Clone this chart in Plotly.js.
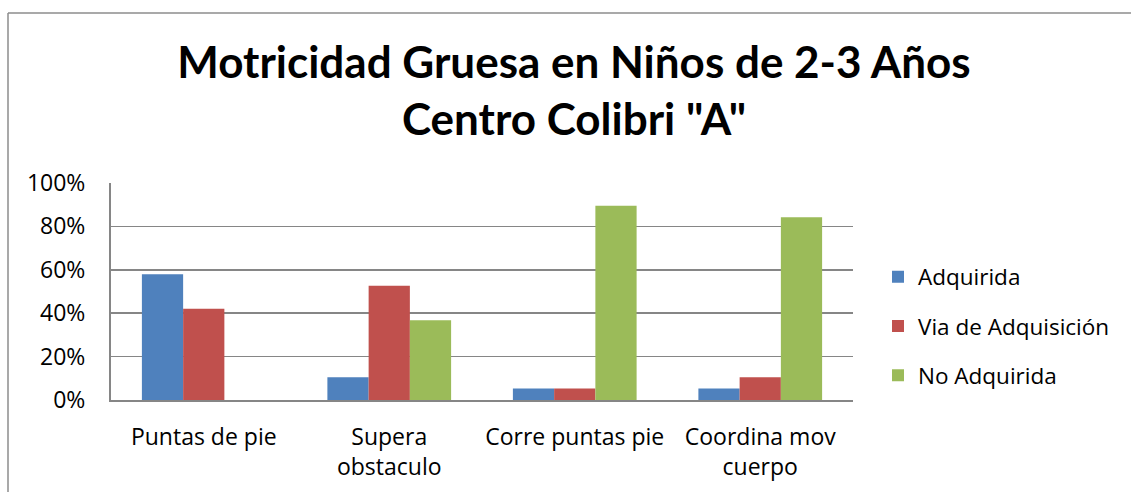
<!DOCTYPE html>
<html>
<head>
<meta charset="utf-8">
<script src="https://cdn.plot.ly/plotly-3.0.1.min.js"></script>
<style>html,body{margin:0;padding:0;background:#fff;}#chart{width:1131px;height:492px;}</style>
</head>
<body>
<div id="chart"></div>
<script>
const categories = ["Puntas de pie", "Supera<br>obstaculo", "Corre puntas pie", "Coordina mov<br>cuerpo"];
const adquirida = [0.579, 0.105, 0.053, 0.053];
const viaAdquisicion = [0.421, 0.526, 0.053, 0.105];
const noAdquirida = [0.0, 0.368, 0.895, 0.842];
const seriesNames = ["Adquirida", "Via de Adquisición", "No Adquirida"];
const tickValues = [0, 0.2, 0.4, 0.6, 0.8, 1.0];
const tickLabels = ["0%", "20%", "40%", "60%", "80%", "100%"];

const colors = ["#4F81BD", "#C0504D", "#9BBB59"];
const allSeries = [adquirida, viaAdquisicion, noAdquirida];
const titleFont = "Lato, 'Open Sans', sans-serif";
const font = "'Open Sans', Lato, sans-serif";

const traces = allSeries.map((vals, i) => ({
  type: "bar",
  name: seriesNames[i],
  x: categories,
  y: vals,
  marker: {color: colors[i]},
  legendgroup: "g" + i,
  hoverinfo: "x+y+name"
}));

const W = 1131, H = 492, L = 111, R = 278, T = 183, B = 92;
const pw = W - L - R, ph = H - T - B;
const px = v => (v - L) / pw;
const py = v => (H - B - v) / ph;

const layout = {
  width: W, height: H,
  margin: {l: L, r: R, t: T, b: B, pad: 0},
  paper_bgcolor: "#ffffff",
  plot_bgcolor: "#ffffff",
  font: {family: font, color: "#000000", size: 23},
  title: {
    text: "<b>Motricidad Gruesa en Niños de 2-3 Años<br>Centro Colibri \"A\"</b>",
    font: {family: titleFont, size: 44, color: "#000000"},
    x: 574 / W, xref: "container", xanchor: "center",
    y: 1 - 78 / H, yref: "container", yanchor: "top"
  },
  barmode: "group",
  bargap: 0.333,
  bargroupgap: 0,
  showlegend: true,
  legend: {
    x: px(878), xanchor: "left",
    y: py(326), yanchor: "middle",
    font: {family: font, size: 22.5, color: "#000000"},
    traceorder: "grouped",
    tracegroupgap: 17,
    bgcolor: "rgba(0,0,0,0)"
  },
  xaxis: {
    type: "category",
    showgrid: false,
    showline: true, linecolor: "#868686", linewidth: 2,
    ticks: "", ticklabelstandoff: 15,
    tickfont: {family: font, size: 23, color: "#000000"},
    fixedrange: true
  },
  yaxis: {
    range: [0, 1],
    tickvals: tickValues, ticktext: tickLabels,
    showgrid: true, gridcolor: "#868686", gridwidth: 1.5,
    showline: true, linecolor: "#868686", linewidth: 2,
    zeroline: false,
    ticks: "", ticklabelstandoff: 19,
    tickfont: {family: font, size: 23, color: "#000000"},
    fixedrange: true
  },
  shapes: [
    {type: "line", xref: "paper", yref: "paper", x0: px(8), x1: px(1140), y0: py(13), y1: py(13), line: {color: "#8c8c8c", width: 1.5}},
    {type: "line", xref: "paper", yref: "paper", x0: px(8), x1: px(8), y0: py(13), y1: py(500), line: {color: "#8c8c8c", width: 1.5}}
  ]
};

Plotly.newPlot("chart", traces, layout, {displayModeBar: false, staticPlot: true});
</script>
</body>
</html>
